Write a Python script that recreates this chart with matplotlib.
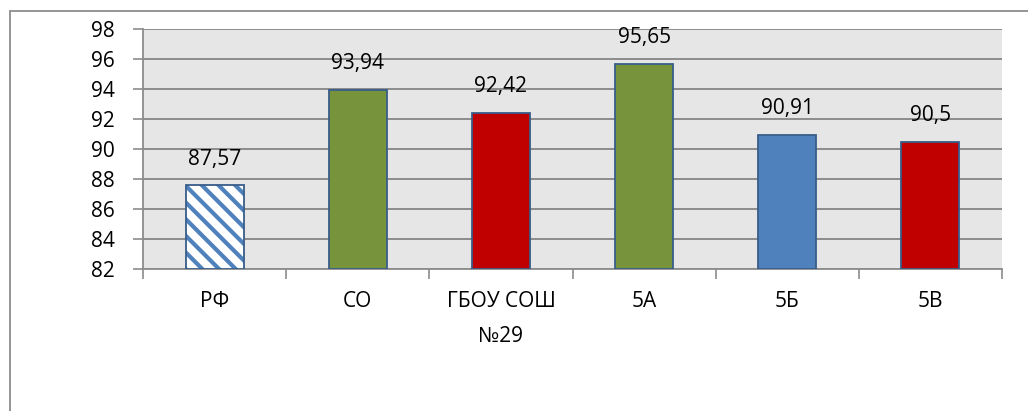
import matplotlib
matplotlib.use("Agg")
import matplotlib.pyplot as plt
from matplotlib.patches import Rectangle
from matplotlib.ticker import MultipleLocator

plt.rcParams['font.family'] = ['Open Sans', 'DejaVu Sans']
plt.rcParams['hatch.linewidth'] = 3.0

categories = ['РФ', 'СО', 'ГБОУ СОШ\n№29', '5А', '5Б', '5В']
values = [87.57, 93.94, 92.42, 95.65, 90.91, 90.5]
value_labels = ['87,57', '93,94', '92,42', '95,65', '90,91', '90,5']
colors = ['white', '#77933C', '#C00000', '#77933C', '#4F81BD', '#C00000']
hatches = ['\\\\', None, None, None, None, None]

W, H = 1028, 411
FS = 15
fig = plt.figure(figsize=(W / 100, H / 100), dpi=100)
ax = fig.add_axes([143 / W, 1 - 269 / H, (1002 - 143) / W, (269 - 29) / H])
ax.set_facecolor('#E6E6E6')

x = list(range(len(categories)))
base = 82
for xi, v, c, h in zip(x, values, colors, hatches):
    heights = v - base
    if h:
        # striped fill: hatch takes the edge colour, so draw it without an outline
        ax.bar(xi, heights, bottom=base, width=0.405, color=c, hatch=h,
               edgecolor='#4F81BD', linewidth=0, zorder=3)
        ax.bar(xi, heights, bottom=base, width=0.405, fill=False,
               edgecolor='#385D8A', linewidth=1.3, zorder=3.5)
    else:
        ax.bar(xi, heights, bottom=base, width=0.405, color=c,
               edgecolor='#385D8A', linewidth=1.3, zorder=3)

for xi, v, lab in zip(x, values, value_labels):
    ax.annotate(lab, (xi, v), xytext=(0, 19), textcoords='offset points',
                ha='center', va='center', fontsize=FS, color='black', zorder=4)

ax.set_xlim(-0.5, len(categories) - 0.5)
ax.set_ylim(82, 98)
ax.yaxis.set_major_locator(MultipleLocator(2))
ax.grid(axis='y', color='#8C8C8C', linewidth=1.4, zorder=1)
ax.set_axisbelow(True)

# category ticks sit on the boundaries between groups
ax.set_xticks([i - 0.5 for i in range(len(categories) + 1)])
ax.set_xticklabels([])
ax.set_xticks(x, minor=True)
ax.set_xticklabels(categories, minor=True, fontsize=FS, linespacing=1.85)
ax.tick_params(axis='x', which='major', length=7, width=1.2, color='#8C8C8C', direction='out')
ax.tick_params(axis='x', which='minor', length=0, pad=16)
ax.tick_params(axis='y', length=7, width=1.2, color='#8C8C8C', direction='out',
               labelsize=FS, pad=13)

for side in ('top', 'right'):
    ax.spines[side].set_visible(False)
for side in ('left', 'bottom'):
    ax.spines[side].set_color('#8C8C8C')
    ax.spines[side].set_linewidth(1.3)

# chart area frame
fig.add_artist(Rectangle((10 / W, -0.1), 1.2, 1.1 - 11 / H, transform=fig.transFigure,
                         fill=False, edgecolor='#8C8C8C', linewidth=1.3))

fig.savefig('out.png', dpi=100, facecolor='white')
